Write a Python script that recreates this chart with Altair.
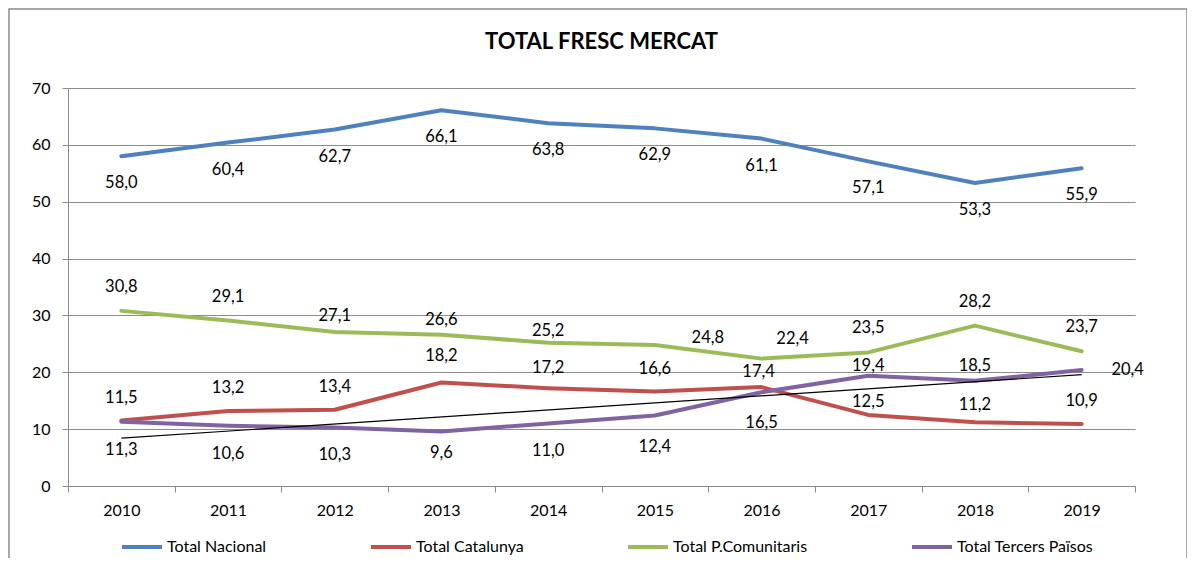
import altair as alt
import pandas as pd

years = [2010, 2011, 2012, 2013, 2014, 2015, 2016, 2017, 2018, 2019]
series_names = ["Total Nacional", "Total Catalunya", "Total P.Comunitaris", "Total Tercers Països"]
nacional = [58.0, 60.4, 62.7, 66.1, 63.8, 62.9, 61.1, 57.1, 53.3, 55.9]
catalunya = [11.5, 13.2, 13.4, 18.2, 17.2, 16.6, 17.4, 12.5, 11.2, 10.9]
comunitaris = [30.8, 29.1, 27.1, 26.6, 25.2, 24.8, 22.4, 23.5, 28.2, 23.7]
tercers = [11.3, 10.6, 10.3, 9.6, 11.0, 12.4, 16.5, 19.4, 18.5, 20.4]
colors = ["#4F81BD", "#C0504D", "#9BBB59", "#8064A2"]
title_text = "TOTAL FRESC MERCAT"

rows = []
for name, vals in zip(series_names, [nacional, catalunya, comunitaris, tercers]):
    for yr, v in zip(years, vals):
        rows.append({"year": yr, "series": name, "value": v})
df = pd.DataFrame(rows)

# label placement (style only)
default_offset = {
    "Total Nacional": (0, 27),
    "Total Catalunya": (0, -23),
    "Total P.Comunitaris": (0, -24),
    "Total Tercers Països": (0, 28),
}
overrides = {
    ("Total P.Comunitaris", 2012): (0, -16),
    ("Total P.Comunitaris", 2013): (0, -15),
    ("Total P.Comunitaris", 2014): (0, -12),
    ("Total P.Comunitaris", 2015): (53, -7),
    ("Total P.Comunitaris", 2016): (31, -20),
    ("Total Catalunya", 2013): (0, -27),
    ("Total Catalunya", 2014): (0, -20),
    ("Total Catalunya", 2016): (-3, -15),
    ("Total Catalunya", 2017): (0, -13),
    ("Total Catalunya", 2018): (0, -17),
    ("Total Tercers Països", 2013): (0, 22),
    ("Total Tercers Països", 2015): (0, 32),
    ("Total Tercers Països", 2016): (0, 31),
    ("Total Tercers Països", 2017): (0, -10),
    ("Total Tercers Països", 2018): (0, -15),
    ("Total Tercers Països", 2019): (46, 0),
}
df["dx"] = [overrides.get((s, y), default_offset[s])[0] for s, y in zip(df["series"], df["year"])]
df["dy"] = [overrides.get((s, y), default_offset[s])[1] for s, y in zip(df["series"], df["year"])]

FONT = "Lato"
FS = 16

x_enc = alt.X(
    "year:O",
    scale=alt.Scale(type="band", paddingInner=0, paddingOuter=0),
    axis=alt.Axis(
        labelAngle=0, tickBand="extent", tickSize=6, labelPadding=10,
        labelFontSize=FS, grid=False, domainColor="#8C8C8C", tickColor="#8C8C8C",
    ),
    title=None,
)
y_enc = alt.Y(
    "value:Q",
    scale=alt.Scale(domain=[0, 70]),
    axis=alt.Axis(
        values=list(range(0, 71, 10)), tickSize=6, labelPadding=12,
        labelFontSize=FS, grid=True, gridColor="#8C8C8C",
        domainColor="#8C8C8C", tickColor="#8C8C8C",
    ),
    title=None,
)

base = alt.Chart(df)

lines = base.mark_line(strokeWidth=4, strokeCap="round", strokeJoin="round").encode(
    x=x_enc,
    y=y_enc,
    color=alt.Color(
        "series:N",
        scale=alt.Scale(domain=series_names, range=colors),
        sort=series_names,
        legend=alt.Legend(
            title=None, orient="none", direction="horizontal",
            legendX=52, legendY=437, symbolType="stroke", symbolSize=1600,
            symbolStrokeWidth=4, labelFontSize=FS, labelOffset=3,
            columnPadding=96, labelFont=FONT,
        ),
    ),
    order=alt.Order("year:O"),
)

# linear trend of Tercers Països
trend = base.transform_filter(
    alt.datum.series == series_names[3]
).transform_regression("year", "value").mark_line(color="black", strokeWidth=1.2).encode(
    x=alt.X("year:O", title=None),
    y=alt.Y("value:Q", title=None),
)

label_layers = []
pairs = sorted(set(zip(df["dx"], df["dy"])))
for dx, dy in pairs:
    lyr = base.transform_filter(
        (alt.datum.dx == int(dx)) & (alt.datum.dy == int(dy))
    ).transform_calculate(
        label="replace(format(datum.value, '.1f'), '.', ',')"
    ).mark_text(
        dx=int(dx), dy=int(dy), fontSize=16.5, font=FONT, color="black", baseline="middle"
    ).encode(
        x=alt.X("year:O", title=None),
        y=alt.Y("value:Q", title=None),
        text="label:N",
    )
    label_layers.append(lyr)

frame = alt.Chart(alt.Data(values=[{}])).mark_rect(
    fill=None, stroke="#8C8C8C", strokeWidth=1.5, clip=False
).encode(
    x=alt.value(-59), x2=alt.value(1119), y=alt.value(-79), y2=alt.value(520)
)

title = alt.Chart(alt.Data(values=[{"t": title_text}])).mark_text(
    fontSize=22, font=FONT, fontWeight="bold", color="black", baseline="middle", align="center"
).encode(
    text="t:N", x=alt.value(533.5), y=alt.value(-46)
)

chart = alt.layer(frame, title, lines, trend, *label_layers).properties(
    width=1067,
    height=398,
    padding={"left": 60, "top": 80, "right": 52, "bottom": 72},
    autosize=alt.AutoSizeParams(type="none"),
).configure_view(stroke=None).configure_axis(
    labelFont=FONT, labelColor="black"
).configure_legend(labelColor="black")

chart.save("out.html", embed_options={"renderer": "svg", "actions": False})
